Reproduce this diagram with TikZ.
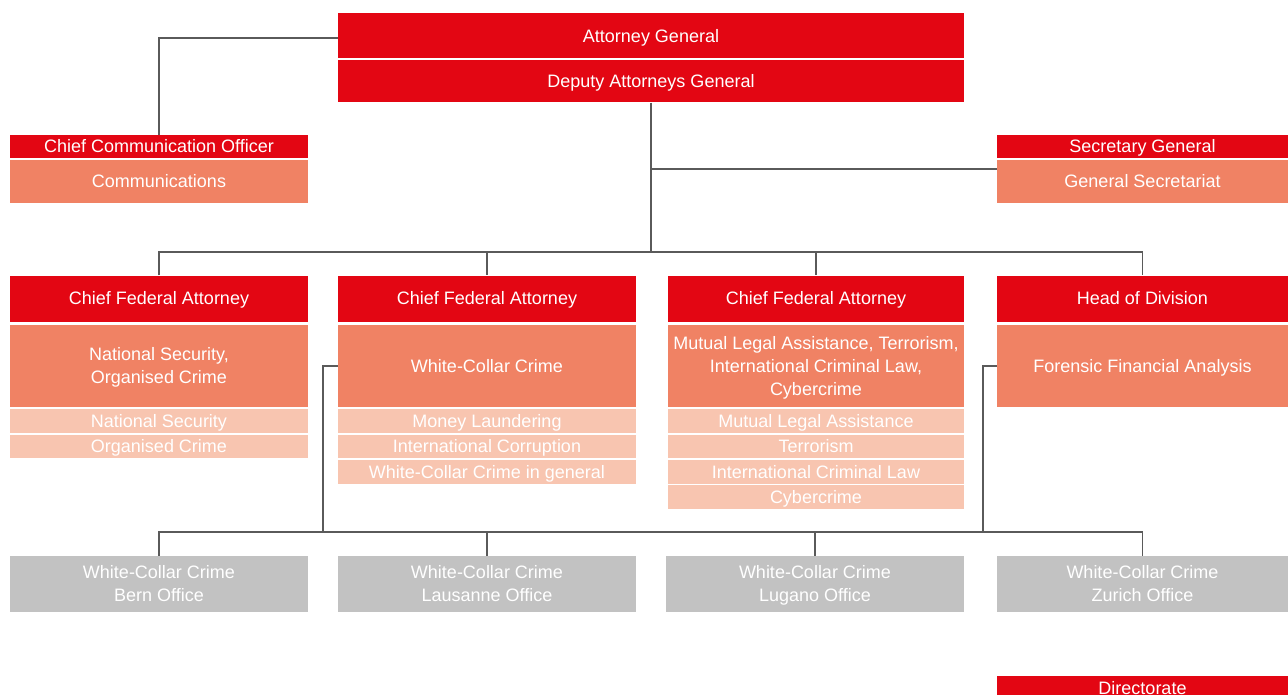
\documentclass[tikz,border=0pt]{standalone}
\usepackage{fontspec}
\setmainfont{Liberation Sans}
\definecolor{hdrred}{HTML}{E30613}
\definecolor{midsalmon}{HTML}{F08264}
\definecolor{litesalmon}{HTML}{F8C5B0}
\definecolor{boxgrey}{HTML}{C2C2C2}
\definecolor{linegrey}{HTML}{5A5A5A}
\begin{document}
\begin{tikzpicture}[x=1pt,y=-1pt,
  box/.style={rectangle, inner sep=0pt, text=white, align=center, font=\fontsize{18}{23}\selectfont},
  oneline/.style={text height=12.9pt, text depth=0pt},
  twolines/.style={text height=35.9pt, text depth=0pt},
  threelines/.style={text height=58.4pt, text depth=0pt, font=\fontsize{18}{22.75}\selectfont},
  hdr/.style={box, oneline, fill=hdrred},
  mid/.style={box, fill=midsalmon},
  lite/.style={box, oneline, fill=litesalmon},
  gry/.style={box, twolines, fill=boxgrey},
  conn/.style={draw=linegrey, line width=1.1pt}]
\useasboundingbox (0,0) rectangle (1288,695);
\clip (0,0) rectangle (1288,695);

% top
\node[hdr, minimum width=626, minimum height=45] (ag) at (651,36) {Attorney General};
\node[hdr, minimum width=626, minimum height=42] (dep) at (651,81.5) {Deputy Attorneys General};
\node[hdr, minimum width=298, minimum height=23] (cco) at (159,146.5) {Chief Communication Officer};
\node[mid, oneline, minimum width=298, minimum height=43] (com) at (159,181.5) {Communications};
\node[hdr, minimum width=291, minimum height=23] (sg) at (1142.5,146.5) {Secretary General};
\node[mid, oneline, minimum width=291, minimum height=43] (gs) at (1142.5,181.5) {General Secretariat};

% column 1
\node[hdr, minimum width=298, minimum height=46] (cfa1) at (159,298.5) {Chief Federal Attorney};
\node[mid, twolines, minimum width=298, minimum height=82] (nsoc) at (159,366) {National Security,\\Organised Crime};
\node[lite, minimum width=298, minimum height=24] (ns) at (159,421) {National Security};
\node[lite, minimum width=298, minimum height=23] (oc) at (159,446) {Organised Crime};

% column 2
\node[hdr, minimum width=298, minimum height=46] (cfa2) at (487,298.5) {Chief Federal Attorney};
\node[mid, oneline, minimum width=298, minimum height=82] (wcc) at (487,366) {White-Collar Crime};
\node[lite, minimum width=298, minimum height=24] (ml) at (487,421) {Money Laundering};
\node[lite, minimum width=298, minimum height=23] (ic) at (487,446) {International Corruption};
\node[lite, minimum width=298, minimum height=24] (wg) at (487,472) {White-Collar Crime in general};

% column 3
\node[hdr, minimum width=296, minimum height=46] (cfa3) at (816,298.5) {Chief Federal Attorney};
\node[mid, threelines, minimum width=296, minimum height=82] (mla) at (816,366) {Mutual Legal Assistance, Terrorism,\\International Criminal Law,\\Cybercrime};
\node[lite, minimum width=296, minimum height=24] (r1) at (816,421) {Mutual Legal Assistance};
\node[lite, minimum width=296, minimum height=23] (r2) at (816,446) {Terrorism};
\node[lite, minimum width=296, minimum height=24] (r3) at (816,472) {International Criminal Law};
\node[lite, minimum width=296, minimum height=24] (r4) at (816,497) {Cybercrime};

% column 4
\node[hdr, minimum width=291, minimum height=46] (hod) at (1142.5,298.5) {Head of Division};
\node[mid, oneline, minimum width=291, minimum height=82] (ffa) at (1142.5,366) {Forensic Financial Analysis};

% offices
\node[gry, minimum width=298, minimum height=56] (g1) at (159,584) {White-Collar Crime\\Bern Office};
\node[gry, minimum width=298, minimum height=56] (g2) at (487,584) {White-Collar Crime\\Lausanne Office};
\node[gry, minimum width=298, minimum height=56] (g3) at (815,584) {White-Collar Crime\\Lugano Office};
\node[gry, minimum width=291, minimum height=56] (g4) at (1142.5,584) {White-Collar Crime\\Zurich Office};

\node[hdr, minimum width=291, minimum height=24] (dir) at (1142.5,688) {Directorate};

% connectors
\coordinate (agl) at (338,38);
\coordinate (bus) at (651,252);
\coordinate (br) at (651,169);
\coordinate (bus2) at (651,532);
\coordinate (wccl) at (323,366);
\coordinate (ffal) at (983,366);
\draw[conn] (agl) -| (cco.north);
\draw[conn] (dep.south) -- (bus);
\draw[conn] (br) -- (br -| gs.west);
\draw[conn] (cfa1.north) |- (bus) -| (hod.north);
\draw[conn] (bus -| cfa2.north) -- (cfa2.north);
\draw[conn] (bus -| cfa3.north) -- (cfa3.north);
\draw[conn] (wcc.west) -- (wccl) -- (wccl |- bus2);
\draw[conn] (ffa.west) -- (ffal) -- (ffal |- bus2);
\draw[conn] (g1.north) |- (bus2) -| (g4.north);
\draw[conn] (bus2 -| g2.north) -- (g2.north);
\draw[conn] (bus2 -| g3.north) -- (g3.north);
\end{tikzpicture}
\end{document}
